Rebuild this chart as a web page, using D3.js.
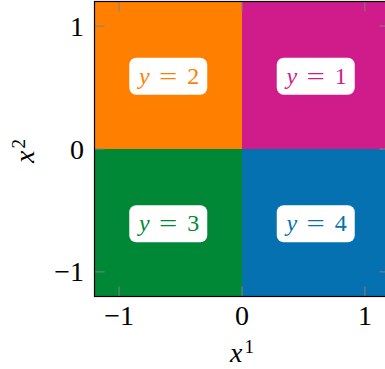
<!DOCTYPE html>
<html>
<head>
<meta charset="utf-8">
<script src="https://cdn.jsdelivr.net/npm/d3@7"></script>
<style>
  html, body { margin: 0; padding: 0; background: #fff; }
  svg { display: block; }
</style>
</head>
<body>
<svg id="chart" width="385" height="369" font-family="'Liberation Serif', 'Times New Roman', 'DejaVu Serif', serif"></svg>
<script>
// Decision regions of a four-class classifier on the plane
const classLabels = [1, 2, 3, 4];
const regionX = [[0, 1.2], [-1.2, 0], [-1.2, 0], [0, 1.2]];
const regionY = [[0, 1.2], [0, 1.2], [-1.2, 0], [-1.2, 0]];
const labelPos = [[0.6, 0.6], [-0.6, 0.6], [-0.6, -0.6], [0.6, -0.6]];
const classColors = ["#d01c8b", "#ff8000", "#008837", "#0571b0"];
const tickValues = [-1, 0, 1];
const axisDomain = [-1.2, 1.2];

const svg = d3.select("#chart");
const x = d3.scaleLinear().domain(axisDomain).range([94.5, 389.5]);
const y = d3.scaleLinear().domain(axisDomain).range([296.5, 1.5]);

// filled regions
svg.append("g").selectAll("rect")
  .data(classLabels)
  .join("rect")
  .attr("x", (d, i) => x(regionX[i][0]))
  .attr("width", (d, i) => x(regionX[i][1]) - x(regionX[i][0]))
  .attr("y", (d, i) => y(regionY[i][1]))
  .attr("height", (d, i) => y(regionY[i][0]) - y(regionY[i][1]))
  .attr("fill", (d, i) => classColors[i]);

// inward ticks on all four sides
const tickLen = 10;
const tickColor = "#808080";
const ticks = svg.append("g").attr("stroke", tickColor).attr("stroke-width", 1);
tickValues.forEach(v => {
  ticks.append("line").attr("x1", x(v)).attr("x2", x(v)).attr("y1", y(-1.2)).attr("y2", y(-1.2) - tickLen);
  ticks.append("line").attr("x1", x(v)).attr("x2", x(v)).attr("y1", y(1.2)).attr("y2", y(1.2) + tickLen);
  ticks.append("line").attr("y1", y(v)).attr("y2", y(v)).attr("x1", x(-1.2)).attr("x2", x(-1.2) + tickLen);
  ticks.append("line").attr("y1", y(v)).attr("y2", y(v)).attr("x1", x(1.2)).attr("x2", x(1.2) - tickLen);
});

// frame
svg.append("rect")
  .attr("x", x(-1.2)).attr("y", y(1.2))
  .attr("width", x(1.2) - x(-1.2)).attr("height", y(-1.2) - y(1.2))
  .attr("fill", "none").attr("stroke", "#000").attr("stroke-width", 1.2);

// tick labels
const fmt = v => v < 0 ? "\u2212" + Math.abs(v) : String(v);
svg.append("g").selectAll("text")
  .data(tickValues).join("text")
  .attr("x", d => x(d)).attr("y", 325)
  .attr("text-anchor", "middle")
  .attr("font-size", 28)
  .text(fmt);
svg.append("g").selectAll("text")
  .data(tickValues).join("text")
  .attr("x", 84).attr("y", d => y(d) + 9.5)
  .attr("text-anchor", "end")
  .attr("font-size", 28)
  .text(fmt);

// axis titles
const xt = svg.append("text").attr("x", x(0)).attr("y", 362)
  .attr("text-anchor", "middle").attr("font-size", 28);
xt.append("tspan").attr("font-style", "italic").text("x");
xt.append("tspan").attr("font-size", 19).attr("dy", -9).attr("dx", 2).text("1");

const yt = svg.append("text")
  .attr("transform", `translate(34,151) rotate(-90)`)
  .attr("text-anchor", "middle").attr("font-size", 28);
yt.append("tspan").attr("font-style", "italic").text("x");
yt.append("tspan").attr("font-size", 19).attr("dy", -9).attr("dx", 2).text("2");

// class labels in white rounded boxes
const boxW = 78, boxH = 37;
const lab = svg.append("g").selectAll("g")
  .data(classLabels).join("g")
  .attr("transform", (d, i) => `translate(${x(labelPos[i][0])},${y(labelPos[i][1]) + 1})`);
lab.append("rect")
  .attr("x", -boxW / 2).attr("y", -boxH / 2)
  .attr("width", boxW).attr("height", boxH)
  .attr("rx", 7).attr("fill", "#fff");
const labelText = lab.append("g")
  .attr("fill", (d, i) => classColors[i])
  .attr("font-size", 24)
  .attr("text-anchor", "middle");
labelText.append("text").attr("x", -24).attr("y", 7.5)
  .attr("font-style", "italic").text("y");
labelText.append("text").attr("transform", "translate(0,7.5) scale(1.35,1)")
  .text("=");
labelText.append("text").attr("x", 25).attr("y", 7.5)
  .text(d => d);
</script>
</body>
</html>
